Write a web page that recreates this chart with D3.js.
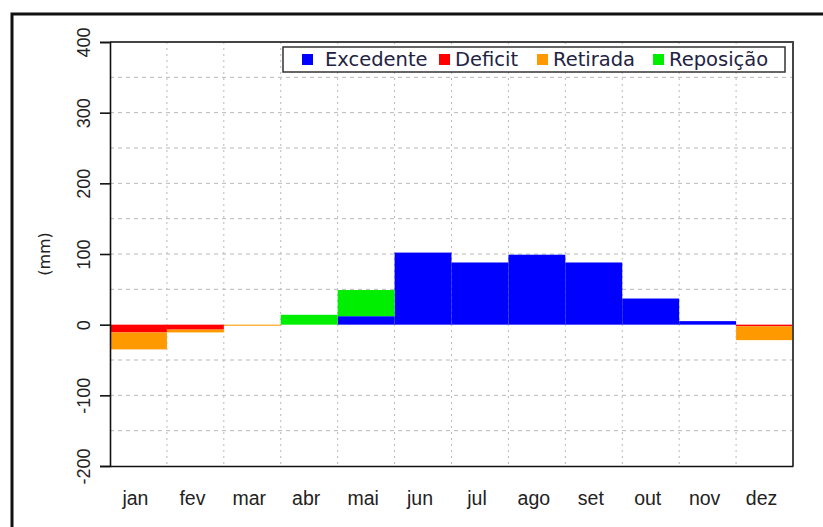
<!DOCTYPE html>
<html>
<head>
<meta charset="utf-8">
<script src="https://cdn.jsdelivr.net/npm/d3@7"></script>
<style>
  body { margin: 0; background: #fff; }
  svg { display: block; font-family: "DejaVu Sans", sans-serif; }
</style>
</head>
<body>
<svg id="chart" width="823" height="527"></svg>
<script>
// monthly water balance (mm)
const months = ["jan","fev","mar","abr","mai","jun","jul","ago","set","out","nov","dez"];
const excedente = [0, 0, 0, 0, 12, 102, 88, 99, 88, 37, 5, 0];
const reposicao = [0, 0, 0, 14, 37, 0, 0, 0, 0, 0, 0, 0];
const deficit   = [-11, -7, 0, 0, 0, 0, 0, 0, 0, 0, 0, -2.4];
const retirada  = [-24, -4, -1.5, 0, 0, 0, 0, 0, 0, 0, 0, -19.5];
const yTicks = [-200, -100, 0, 100, 200, 300, 400];
const yGrid = [-150, -100, -50, 50, 100, 150, 200, 250, 300, 350];

const series = [
  {key: "Excedente", color: "#0000ff", values: excedente},
  {key: "Reposição", color: "#00ee00", values: reposicao},
  {key: "Deficit", color: "#ff0000", values: deficit},
  {key: "Retirada", color: "#ff9900", values: retirada}
];
const legendOrder = ["Excedente", "Deficit", "Retirada", "Reposição"];

const svg = d3.select("#chart");
const margin = {top: 42, right: 30, bottom: 61, left: 110};
const width = 823, height = 527;

const x = d3.scaleBand()
  .domain(months)
  .range([margin.left, width - margin.right])
  .padding(0);

const y = d3.scaleLinear()
  .domain([-200, 400])
  .range([height - margin.bottom, margin.top]);

// build table for d3.stack
const table = months.map((m, i) => {
  const row = {month: m};
  series.forEach(s => row[s.key] = s.values[i]);
  return row;
});
const stacked = d3.stack()
  .keys(series.map(s => s.key))
  .offset(d3.stackOffsetDiverging)(table);

// outer frame
svg.append("rect")
  .attr("x", 12).attr("y", 14)
  .attr("width", 900).attr("height", 700)
  .attr("fill", "none")
  .attr("stroke", "#111")
  .attr("stroke-width", 3);

// grid
svg.append("g")
  .attr("stroke", "#b8b8b8")
  .attr("stroke-dasharray", "4,4")
  .selectAll("line")
  .data(yGrid)
  .join("line")
    .attr("x1", x.range()[0]).attr("x2", x.range()[1])
    .attr("y1", d => y(d)).attr("y2", d => y(d));

svg.append("g")
  .attr("stroke", "#b8b8b8")
  .attr("stroke-dasharray", "2,4")
  .selectAll("line")
  .data(months.slice(1))
  .join("line")
    .attr("x1", d => x(d)).attr("x2", d => x(d))
    .attr("y1", y(400)).attr("y2", y(-200));

// bars
svg.append("g")
  .selectAll("g")
  .data(stacked)
  .join("g")
    .attr("fill", (d, i) => series[i].color)
  .selectAll("rect")
  .data(d => d)
  .join("rect")
    .attr("x", d => x(d.data.month))
    .attr("width", x.bandwidth())
    .attr("y", d => y(Math.max(d[0], d[1])))
    .attr("height", d => Math.abs(y(d[0]) - y(d[1])));

// plot border (top / right)
svg.append("path")
  .attr("d", `M${x.range()[0]},${y(400)}H${x.range()[1]}V${y(-200)}`)
  .attr("fill", "none")
  .attr("stroke", "#444")
  .attr("stroke-width", 2);

// y axis
const yAxis = svg.append("g")
  .attr("transform", `translate(${margin.left},0)`)
  .call(d3.axisLeft(y).tickValues(yTicks).tickSize(10).tickFormat(d => String(d)));
yAxis.select(".domain").attr("stroke", "#111").attr("stroke-width", 1.6);
yAxis.selectAll(".tick line").attr("stroke", "#111").attr("stroke-width", 1.6);
yAxis.selectAll(".tick text")
  .attr("transform", "rotate(-90)")
  .attr("x", 0).attr("y", -20)
  .attr("dy", 0)
  .attr("text-anchor", "middle")
  .attr("fill", "#222")
  .style("font-size", "18px");

// x axis
const xAxis = svg.append("g")
  .attr("transform", `translate(0,${y(-200)})`)
  .call(d3.axisBottom(x).tickSize(0).tickPadding(0));
xAxis.select(".domain").attr("stroke", "#111").attr("stroke-width", 1.6);
xAxis.selectAll(".tick text")
  .attr("y", 39)
  .attr("dx", -3)
  .attr("dy", 0)
  .attr("fill", "#222")
  .style("font-size", "19.5px");

// y label
svg.append("text")
  .attr("transform", `translate(50,${y(100)}) rotate(-90)`)
  .attr("text-anchor", "middle")
  .attr("fill", "#222")
  .style("font-size", "16px")
  .text("(mm)");

// legend
const legend = svg.append("g");
legend.append("rect")
  .attr("x", 283).attr("y", 47)
  .attr("width", 502).attr("height", 25)
  .attr("fill", "#fff")
  .attr("stroke", "#333")
  .attr("stroke-width", 1.5);
const legendX = [302, 439, 537, 653];
const item = legend.selectAll("g.item")
  .data(legendOrder)
  .join("g")
    .attr("class", "item")
    .attr("transform", (d, i) => `translate(${legendX[i]},0)`);
item.append("rect")
  .attr("y", 54).attr("width", 11).attr("height", 11)
  .attr("fill", d => series.find(s => s.key === d).color);
item.append("text")
  .attr("x", (d, i) => i === 0 ? 23 : 16)
  .attr("y", 66)
  .attr("fill", "#222244")
  .style("font-size", "19.5px")
  .text(d => d);
</script>
</body>
</html>
